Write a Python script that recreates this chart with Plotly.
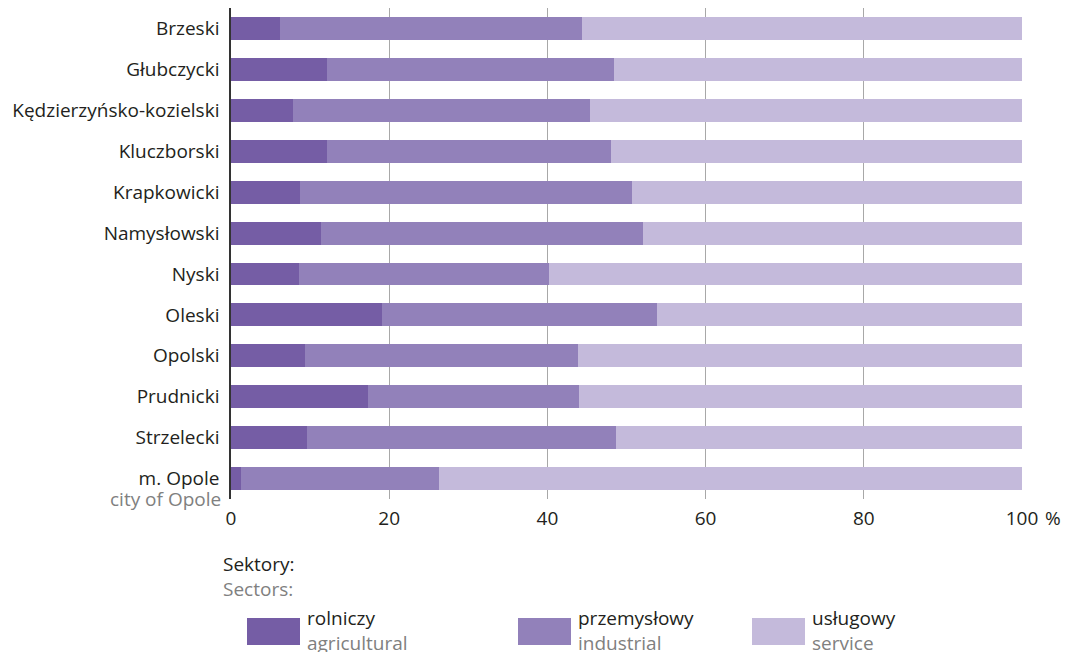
import plotly.graph_objects as go

categories = ["Brzeski", "Głubczycki", "Kędzierzyńsko-kozielski", "Kluczborski",
              "Krapkowicki", "Namysłowski", "Nyski", "Oleski", "Opolski",
              "Prudnicki", "Strzelecki", "m. Opole"]
agricultural = [6.2, 12.1, 7.8, 12.1, 8.7, 11.4, 8.6, 19.1, 9.4, 17.3, 9.6, 1.3]
industrial = [38.2, 36.3, 37.6, 35.9, 42.0, 40.7, 31.6, 34.8, 34.5, 26.7, 39.1, 25.0]
service = [55.6, 51.6, 54.6, 52.0, 49.3, 47.9, 59.8, 46.1, 56.1, 56.0, 51.3, 73.7]

series_names = ["rolniczy", "przemysłowy", "usługowy"]
series_names_en = ["agricultural", "industrial", "service"]
colors = ["#755da5", "#9281ba", "#c4badb"]

x_ticks = [0, 20, 40, 60, 80, 100]
x_ticktext = ["0", "20", "40", "60", "80", "100"]

DARK = "#231f20"
GRAY = "#808080"
FONT = "Open Sans"
FS = 19

# page body adds an 8px offset; work in reference pixels and subtract it
OFF = 8
W, H = 1070 - OFF, 652 - OFF
L = 231 - OFF
T = 8 - OFF
PLOT_BOTTOM = 499 - OFF
PLOT_RIGHT = 1022 - OFF
R = W - PLOT_RIGHT
B = H - PLOT_BOTTOM
PW = W - L - R
PH = H - T - B


def px(x):
    return (x - OFF - L) / PW


def py(y):
    return (PLOT_BOTTOM - (y - OFF)) / PH


def two_line(a, b):
    return f"{a}<br><span style='color:{GRAY}'>{b}</span>"


fig = go.Figure()
for vals, name, col in zip([agricultural, industrial, service], series_names, colors):
    fig.add_trace(go.Bar(y=categories, x=vals, name=name, orientation="h",
                         marker=dict(color=col, line=dict(width=0)), showlegend=False))

fig.update_layout(
    barmode="stack", bargap=0.44,
    width=W, height=H,
    margin=dict(l=L, r=R, t=T, b=B, pad=0),
    plot_bgcolor="white", paper_bgcolor="white",
    font=dict(family=FONT, size=FS, color=DARK),
    xaxis=dict(range=[0, 100], tickvals=x_ticks, ticktext=x_ticktext,
               showgrid=True, gridcolor="#a8a8a8", gridwidth=1, zeroline=False,
               ticks="outside", ticklen=2, tickcolor="white",
               tickfont=dict(size=FS, color=DARK),
               showline=False, fixedrange=True, automargin=False),
    yaxis=dict(categoryorder="array", categoryarray=categories, autorange="reversed",
               showgrid=False, showline=True, linecolor="#333333", linewidth=1.5,
               ticks="", ticklabelstandoff=6, tickfont=dict(size=FS, color=DARK),
               automargin=False),
)

annotations = []
# city of Opole subtitle
annotations.append(dict(xref="paper", yref="y", x=0, y=categories[-1], text="city of Opole",
                        showarrow=False, xanchor="right", yanchor="middle", xshift=-8, yshift=-20,
                        font=dict(size=FS, color=GRAY)))
# percent sign after "100"
annotations.append(dict(xref="x", yref="paper", x=100, y=0, text="%", showarrow=False,
                        xanchor="left", yanchor="middle", xshift=21, yshift=-19,
                        font=dict(size=FS, color=DARK)))
# legend title
annotations.append(dict(xref="paper", yref="paper", x=px(221), y=py(576),
                        text=two_line("Sektory:", "Sectors:"),
                        showarrow=False, xanchor="left", yanchor="middle", align="left",
                        font=dict(size=FS, color=DARK)))

shapes = []
box_x = [247, 518, 752]
box_w = 53
for bx, name, en, col in zip(box_x, series_names, series_names_en, colors):
    shapes.append(dict(type="rect", xref="paper", yref="paper",
                       x0=px(bx), x1=px(bx + box_w), y0=py(645), y1=py(618),
                       fillcolor=col, line=dict(width=0)))
    annotations.append(dict(xref="paper", yref="paper", x=px(bx + box_w + 5), y=py(630),
                            text=two_line(name, en), showarrow=False,
                            xanchor="left", yanchor="middle", align="left",
                            font=dict(size=FS, color=DARK)))

fig.update_layout(annotations=annotations, shapes=shapes)
fig.write_html("out.html")
